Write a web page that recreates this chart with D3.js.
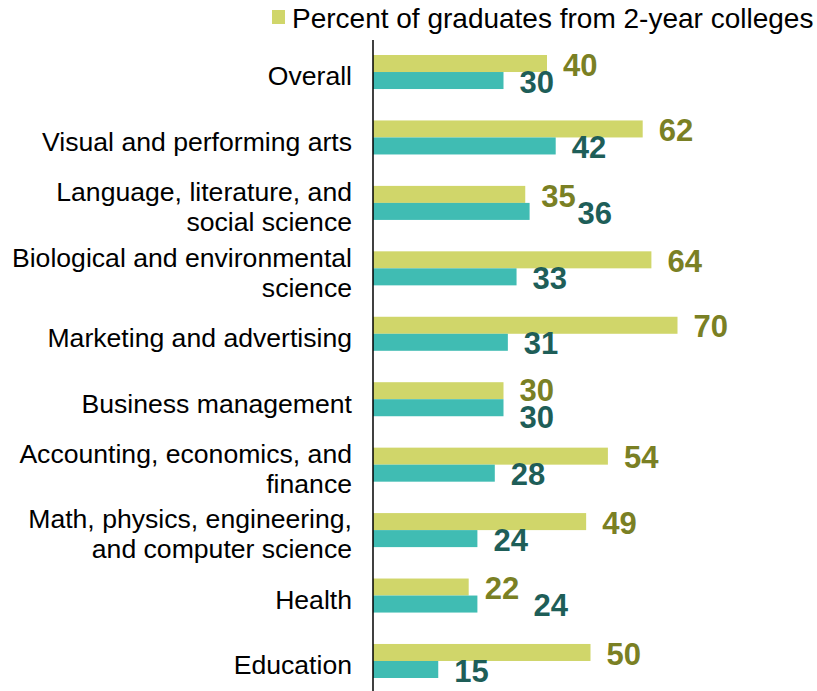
<!DOCTYPE html>
<html>
<head>
<meta charset="utf-8">
<script src="https://cdn.jsdelivr.net/npm/d3@7/dist/d3.min.js"></script>
<style>
  html, body { margin: 0; padding: 0; background: #fff; }
  svg { display: block; }
  text { font-family: "Liberation Sans", Arial, sans-serif; }
</style>
</head>
<body>
<svg id="chart" width="817" height="691"></svg>
<script>
const categories = [
  ["Overall"],
  ["Visual and performing arts"],
  ["Language, literature, and", "social science"],
  ["Biological and environmental", "science"],
  ["Marketing and advertising"],
  ["Business management"],
  ["Accounting, economics, and", "finance"],
  ["Math, physics, engineering,", "and computer science"],
  ["Health"],
  ["Education"]
];
const twoYear = [40, 62, 35, 64, 70, 30, 54, 49, 22, 50];
const fourYear = [30, 42, 36, 33, 31, 30, 28, 24, 24, 15];
const seriesNames = ["twoYear", "fourYear"];
const legendLabel = "Percent of graduates from 2-year colleges";

const colors = { twoYear: "#d0d66a", fourYear: "#40bcb3" };
const labelColors = { twoYear: "#7a8024", fourYear: "#1e5e58" };

// label nudges to avoid overlaps (as in the original)
const nudge = {
  "2-fourYear": { dx: 32, dy: 0 },
  "8-fourYear": { dx: 40, dy: 0 },
  "5-twoYear": { dx: 0, dy: -2 },
  "5-fourYear": { dx: 0, dy: 8 }
};

const svg = d3.select("#chart");
const keys = categories.map((c, i) => i);

const x = d3.scaleLinear().domain([0, 100]).range([373, 808]);
const y = d3.scaleBand().domain(keys).range([39.3, 693.7]).paddingInner(0.48).paddingOuter(0.24);
const ySub = d3.scaleBand().domain(seriesNames).range([0, y.bandwidth()]);

const data = keys.map(i => ({ i, twoYear: twoYear[i], fourYear: fourYear[i] }));

const g = svg.append("g");
const groups = g.selectAll("g.cat").data(data).join("g")
  .attr("class", "cat")
  .attr("transform", d => `translate(0,${y(d.i)})`);

groups.selectAll("rect").data(d => seriesNames.map(s => ({ i: d.i, s, v: d[s] })))
  .join("rect")
  .attr("x", x(0))
  .attr("y", d => ySub(d.s))
  .attr("width", d => x(d.v) - x(0))
  .attr("height", ySub.bandwidth())
  .attr("fill", d => colors[d.s]);

groups.selectAll("text.val").data(d => seriesNames.map(s => ({ i: d.i, s, v: d[s] })))
  .join("text")
  .attr("class", "val")
  .attr("x", d => x(d.v) + 16 + ((nudge[d.i + "-" + d.s] || {}).dx || 0))
  .attr("y", d => ySub(d.s) + ySub.bandwidth() / 2 + 1 + ((nudge[d.i + "-" + d.s] || {}).dy || 0))
  .attr("dy", "0.36em")
  .attr("font-size", 31)
  .attr("font-weight", "bold")
  .attr("fill", d => labelColors[d.s])
  .text(d => d.v);

// category labels
const lineH = 30;
svg.append("g").selectAll("text.cat").data(keys).join("text")
  .attr("class", "cat")
  .attr("text-anchor", "end")
  .attr("font-size", 26.6)
  .attr("fill", "#000")
  .each(function(i) {
    const lines = categories[i];
    const cy = y(i) + y.bandwidth() / 2 + 4;
    const t = d3.select(this);
    lines.forEach((ln, k) => {
      t.append("tspan")
        .attr("x", 352)
        .attr("y", cy + (k - (lines.length - 1) / 2) * lineH)
        .attr("dy", "0.35em")
        .text(ln);
    });
  });

// axis line
svg.append("line")
  .attr("x1", x(0)).attr("x2", x(0))
  .attr("y1", 40).attr("y2", 691)
  .attr("stroke", "#000").attr("stroke-width", 1.5);

// legend
const lg = svg.append("g");
lg.append("rect").attr("x", 272).attr("y", 10).attr("width", 13).attr("height", 14).attr("fill", colors.twoYear);
lg.append("text").attr("x", 292).attr("y", 28).attr("font-size", 28).attr("fill", "#000").text(legendLabel);
</script>
</body>
</html>
